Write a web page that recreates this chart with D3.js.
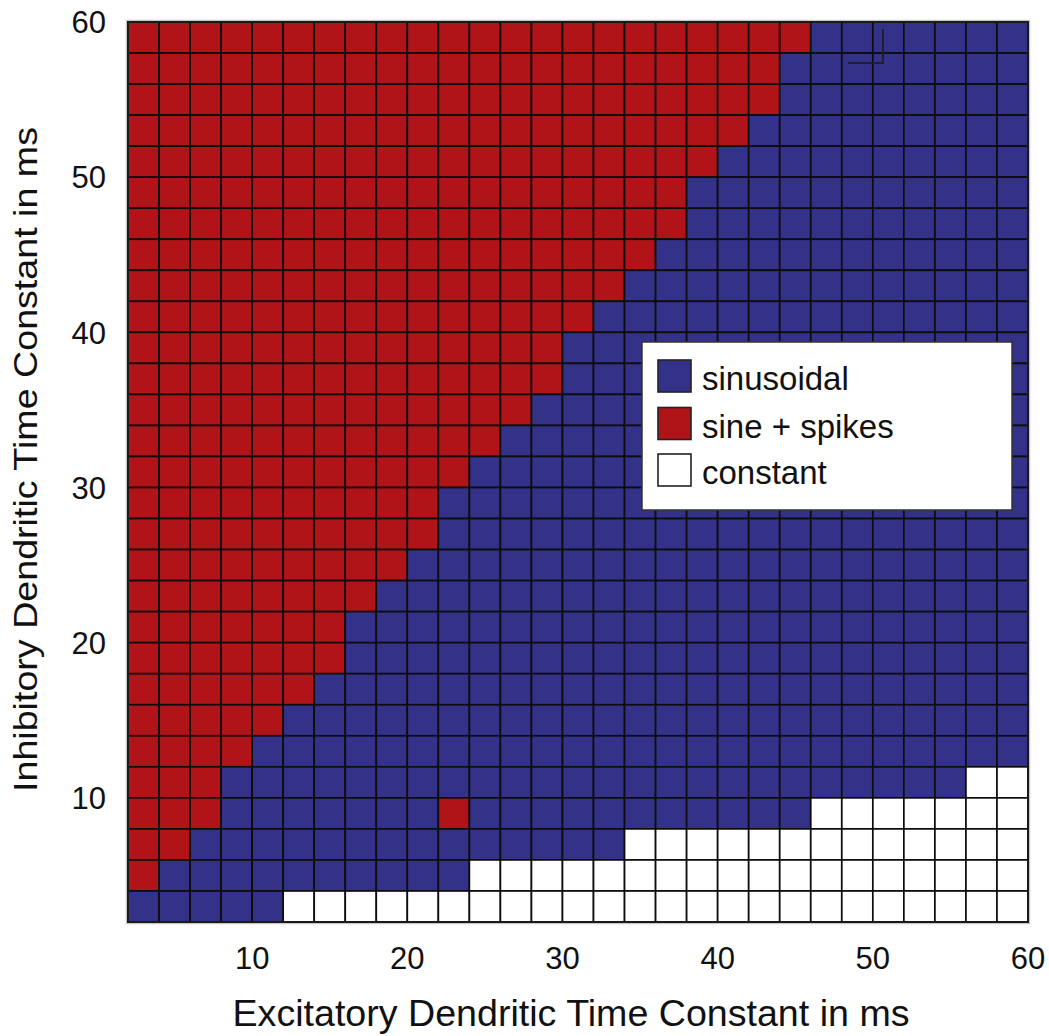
<!DOCTYPE html>
<html>
<head>
<meta charset="utf-8">
<script src="https://cdn.jsdelivr.net/npm/d3@7/dist/d3.min.js"></script>
<style>
  html, body { margin: 0; padding: 0; background: #fff; }
  svg { display: block; }
  text { font-family: "Liberation Sans", Arial, Helvetica, sans-serif; fill: #111; }
</style>
</head>
<body>
<script>
// Excitatory (columns) and inhibitory (rows) dendritic time constants, cell centres in ms
const excitatoryTau = [3, 5, 7, 9, 11, 13, 15, 17, 19, 21, 23, 25, 27, 29, 31,
                       33, 35, 37, 39, 41, 43, 45, 47, 49, 51, 53, 55, 57, 59];
const inhibitoryTau = [59, 57, 55, 53, 51, 49, 47, 45, 43, 41, 39, 37, 35, 33, 31,
                       29, 27, 25, 23, 21, 19, 17, 15, 13, 11, 9, 7, 5, 3];

// Regime per cell, one string per inhibitory row (top to bottom), one letter per
// excitatory column, grouped in fives: r = sine + spikes, b = sinusoidal, w = constant
const regimeRows = [
  "rrrrr rrrrr rrrrr rrrrr rrbbb bbbb", // 59
  "rrrrr rrrrr rrrrr rrrrr rbbbb bbbb", // 57
  "rrrrr rrrrr rrrrr rrrrr rbbbb bbbb", // 55
  "rrrrr rrrrr rrrrr rrrrr bbbbb bbbb", // 53
  "rrrrr rrrrr rrrrr rrrrb bbbbb bbbb", // 51
  "rrrrr rrrrr rrrrr rrrbb bbbbb bbbb", // 49
  "rrrrr rrrrr rrrrr rrrbb bbbbb bbbb", // 47
  "rrrrr rrrrr rrrrr rrbbb bbbbb bbbb", // 45
  "rrrrr rrrrr rrrrr rbbbb bbbbb bbbb", // 43
  "rrrrr rrrrr rrrrr bbbbb bbbbb bbbb", // 41
  "rrrrr rrrrr rrrrb bbbbb bbbbb bbbb", // 39
  "rrrrr rrrrr rrrrb bbbbb bbbbb bbbb", // 37
  "rrrrr rrrrr rrrbb bbbbb bbbbb bbbb", // 35
  "rrrrr rrrrr rrbbb bbbbb bbbbb bbbb", // 33
  "rrrrr rrrrr rbbbb bbbbb bbbbb bbbb", // 31
  "rrrrr rrrrr bbbbb bbbbb bbbbb bbbb", // 29
  "rrrrr rrrrr bbbbb bbbbb bbbbb bbbb", // 27
  "rrrrr rrrrb bbbbb bbbbb bbbbb bbbb", // 25
  "rrrrr rrrbb bbbbb bbbbb bbbbb bbbb", // 23
  "rrrrr rrbbb bbbbb bbbbb bbbbb bbbb", // 21
  "rrrrr rrbbb bbbbb bbbbb bbbbb bbbb", // 19
  "rrrrr rbbbb bbbbb bbbbb bbbbb bbbb", // 17
  "rrrrr bbbbb bbbbb bbbbb bbbbb bbbb", // 15
  "rrrrb bbbbb bbbbb bbbbb bbbbb bbbb", // 13
  "rrrbb bbbbb bbbbb bbbbb bbbbb bbww", // 11
  "rrrbb bbbbb rbbbb bbbbb bbwww wwww", // 9
  "rrbbb bbbbb bbbbb bwwww wwwww wwww", // 7
  "rbbbb bbbbb bwwww wwwww wwwww wwww", // 5
  "bbbbb wwwww wwwww wwwww wwwww wwww"  // 3
];

const regimeKeys   = ["b", "r", "w"];
const regimeNames  = ["sinusoidal", "sine + spikes", "constant"];
const regimeColors = ["#343288", "#b01419", "#ffffff"];

const xTicks = [10, 20, 30, 40, 50, 60];
const yTicks = [10, 20, 30, 40, 50, 60];

const xTitle = "Excitatory Dendritic Time Constant in ms";
const yTitle = "Inhibitory Dendritic Time Constant in ms";

// small corner mark in the upper right of the grid (ms coordinates)
const cornerMark = [[48.4, 57.35], [50.65, 57.35], [50.65, 59.55]];

// ---------------------------------------------------------------------------
const W = 1049, H = 1036;
const cellStep = 2; // ms per cell

const x = d3.scaleLinear().domain([2, 60]).range([128, 1028]);
const y = d3.scaleLinear().domain([2, 60]).range([922, 22]);
const color = d3.scaleOrdinal().domain(regimeKeys).range(regimeColors);

const svg = d3.select("body").append("svg")
  .attr("width", W).attr("height", H);

// flatten the regime table into cells
const cells = [];
regimeRows.forEach((row, i) => {
  const letters = row.replace(/ /g, "");
  letters.split("").forEach((k, j) => {
    cells.push({ te: excitatoryTau[j], ti: inhibitoryTau[i], k });
  });
});

// faint halo around the plot frame
svg.append("rect")
  .attr("x", x(2) - 1.5).attr("y", y(60) - 1.5)
  .attr("width", x(60) - x(2) + 3).attr("height", y(2) - y(60) + 3)
  .attr("fill", "none").attr("stroke", "#c8c8c8").attr("stroke-width", 1.5);

svg.append("g").selectAll("rect")
  .data(cells)
  .join("rect")
  .attr("x", d => x(d.te - cellStep / 2))
  .attr("y", d => y(d.ti + cellStep / 2))
  .attr("width", d => x(d.te + cellStep / 2) - x(d.te - cellStep / 2))
  .attr("height", d => y(d.ti - cellStep / 2) - y(d.ti + cellStep / 2))
  .attr("fill", d => color(d.k))
  .attr("stroke", "#0d0d0d")
  .attr("stroke-width", 1.7);

// frame
svg.append("rect")
  .attr("x", x(2)).attr("y", y(60))
  .attr("width", x(60) - x(2)).attr("height", y(2) - y(60))
  .attr("fill", "none").attr("stroke", "#1a1a1a").attr("stroke-width", 2);

svg.append("path")
  .attr("d", d3.line().x(d => x(d[0])).y(d => y(d[1]))(cornerMark))
  .attr("fill", "none").attr("stroke", "#1e1e2e").attr("stroke-width", 2);

// x tick labels
svg.append("g").selectAll("text")
  .data(xTicks)
  .join("text")
  .attr("x", d => x(d))
  .attr("y", 969)
  .attr("text-anchor", "middle")
  .attr("font-size", 31)
  .text(d => d);

// y tick labels
svg.append("g").selectAll("text")
  .data(yTicks)
  .join("text")
  .attr("x", 106)
  .attr("y", d => y(d))
  .attr("dy", "0.36em")
  .attr("text-anchor", "end")
  .attr("font-size", 31)
  .text(d => d);

// axis titles
svg.append("text")
  .attr("x", 571).attr("y", 1026)
  .attr("text-anchor", "middle")
  .attr("font-size", 37)
  .attr("textLength", 677).attr("lengthAdjust", "spacingAndGlyphs")
  .text(xTitle);

svg.append("text")
  .attr("transform", "translate(37,459.5) rotate(-90)")
  .attr("text-anchor", "middle")
  .attr("font-size", 33)
  .attr("textLength", 665).attr("lengthAdjust", "spacingAndGlyphs")
  .text(yTitle);

// legend
const legend = svg.append("g");
legend.append("rect")
  .attr("x", 642).attr("y", 342).attr("width", 370).attr("height", 168)
  .attr("fill", "#fff").attr("stroke", "#333").attr("stroke-width", 1.5);

const swatchTops = [360, 407.5, 454];
const item = legend.selectAll("g.item")
  .data(regimeKeys)
  .join("g").attr("class", "item")
  .attr("transform", (d, i) => `translate(658,${swatchTops[i]})`);

item.append("rect")
  .attr("width", 33).attr("height", 32)
  .attr("fill", d => color(d))
  .attr("stroke", "#222").attr("stroke-width", 1.6);

item.append("text")
  .attr("x", 44).attr("y", 30)
  .attr("font-size", 33)
  .text((d, i) => regimeNames[i]);
</script>
</body>
</html>
